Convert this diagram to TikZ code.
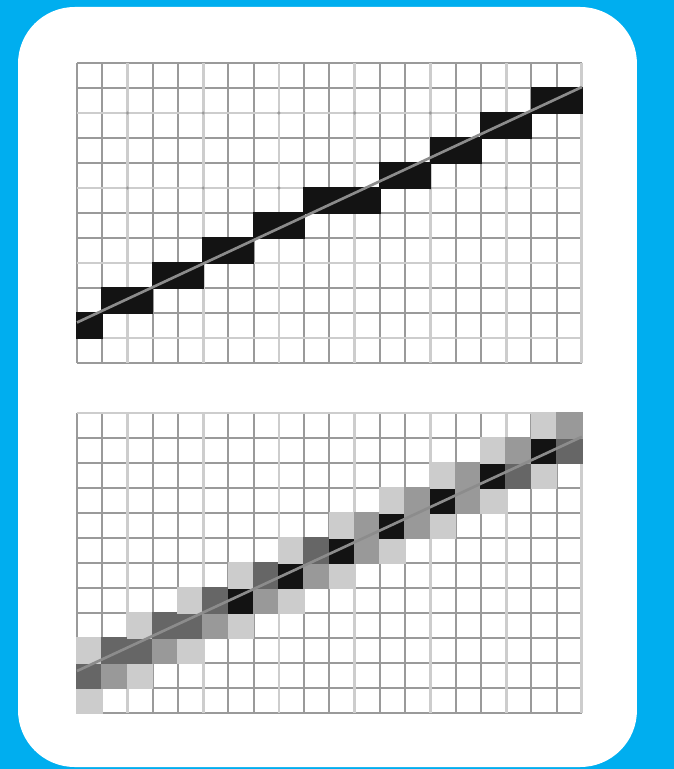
\documentclass[tikz,border=0pt]{standalone}
\usepackage{tikz}
\usepackage{xcolor}
\definecolor{ScreenBlue}{HTML}{00AEEF}
\definecolor{GridDark}{HTML}{9A9A9A}
\definecolor{GridLight}{HTML}{CDCDCD}
\definecolor{ShadeLight}{HTML}{CCCCCC}
\definecolor{ShadeMid}{HTML}{999999}
\definecolor{ShadeDark}{HTML}{666666}
\definecolor{ShadeBlack}{HTML}{131313}
\definecolor{LineGray}{HTML}{8C8C8C}

\tikzset{
  gridline/.style={GridDark, line width=1.5pt},
  gridlight/.style={GridLight, line width=2.2pt},
  pixel/.style={fill=ShadeBlack},
  idealline/.style={LineGray, line width=2pt},
}

\begin{document}
\begin{tikzpicture}[x=0.668cm, y=-0.6615cm]
    % Panel
    \useasboundingbox (0,0) rectangle (26.693,30.76);
    \fill[ScreenBlue] (0,0) rectangle (26.693,30.76);
    \fill[white, rounded corners=1.5cm] (0.713,0.28) rectangle (25.23,30.68);

    % Top grid - aliased line
    \begin{scope}[shift={(3.05,2.52)}]
        \foreach \c in {0,...,20} {
            \draw[gridline] (\c,0) -- (\c,12);
        }
        \foreach \r in {0,...,12} {
            \draw[gridline] (0,\r) -- (20,\r);
        }
        \foreach \c in {2,5,...,20} {
            \draw[gridlight] (\c,0) -- (\c,12);
        }
        \foreach \r in {2,5,8,11} {
            \draw[gridlight] (0,\r) -- (20,\r);
        }
        \foreach \c in {2,5,...,17} {
            \foreach \r in {2,5} {
                \fill[GridDark] (\c,\r) circle (1.3pt);
            }
        }

        % Black runs: column/row/width
        \foreach \c/\r/\w in {0/10/1, 1/9/2, 3/8/2, 5/7/2, 7/6/2,
                              9/5/3, 12/4/2, 14/3/2, 16/2/2, 18/1/2} {
            \fill[pixel] (\c-0.03,\r-0.03) rectangle (\c+\w+0.03,\r+1.03);
        }

        \coordinate (topA) at (0,10.38);
        \coordinate (topB) at (20,0.96);
        \draw[idealline] (topA) -- (topB);
    \end{scope}

    % Bottom grid - antialiased line
    \begin{scope}[shift={(3.05,16.52)}]
        \foreach \c in {0,...,20} {
            \draw[gridline] (\c,0) -- (\c,12);
        }
        \foreach \r in {0,...,12} {
            \draw[gridline] (0,\r) -- (20,\r);
        }
        \foreach \c in {2,5,...,20} {
            \draw[gridlight] (\c,0) -- (\c,12);
        }
        \draw[gridlight] (0,0) -- (20,0);

        % Shaded cells: column/row/shade
        \foreach \c/\r/\s in {
            0/11/ShadeLight,
            0/10/ShadeDark, 1/10/ShadeMid, 2/10/ShadeLight,
            0/9/ShadeLight, 1/9/ShadeDark, 2/9/ShadeDark, 3/9/ShadeMid, 4/9/ShadeLight,
            2/8/ShadeLight, 3/8/ShadeDark, 4/8/ShadeDark, 5/8/ShadeMid, 6/8/ShadeLight,
            4/7/ShadeLight, 5/7/ShadeDark, 6/7/ShadeBlack, 7/7/ShadeMid, 8/7/ShadeLight,
            6/6/ShadeLight, 7/6/ShadeDark, 8/6/ShadeBlack, 9/6/ShadeMid, 10/6/ShadeLight,
            8/5/ShadeLight, 9/5/ShadeDark, 10/5/ShadeBlack, 11/5/ShadeMid, 12/5/ShadeLight,
            10/4/ShadeLight, 11/4/ShadeMid, 12/4/ShadeBlack, 13/4/ShadeMid, 14/4/ShadeLight,
            12/3/ShadeLight, 13/3/ShadeMid, 14/3/ShadeBlack, 15/3/ShadeMid, 16/3/ShadeLight,
            14/2/ShadeLight, 15/2/ShadeMid, 16/2/ShadeBlack, 17/2/ShadeDark, 18/2/ShadeLight,
            16/1/ShadeLight, 17/1/ShadeMid, 18/1/ShadeBlack, 19/1/ShadeDark,
            18/0/ShadeLight, 19/0/ShadeMid} {
            \fill[\s] (\c-0.03,\r-0.03) rectangle (\c+1.03,\r+1.03);
        }

        \coordinate (botA) at (0,10.32);
        \coordinate (botB) at (20,0.95);
        \draw[idealline] (botA) -- (botB);
    \end{scope}
\end{tikzpicture}
\end{document}
